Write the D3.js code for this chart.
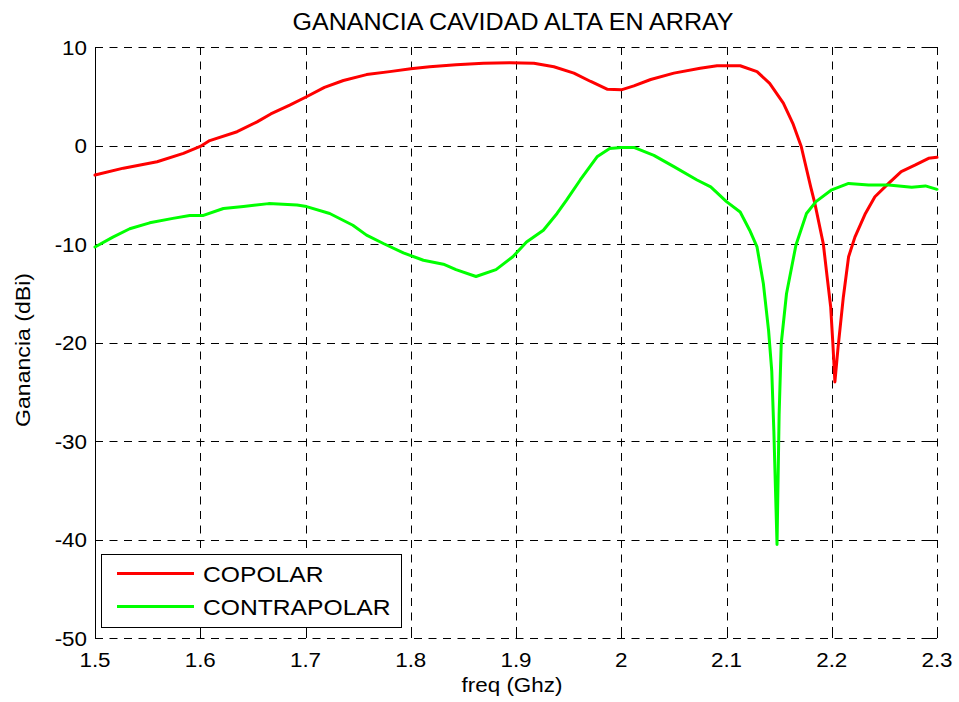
<!DOCTYPE html>
<html>
<head>
<meta charset="utf-8">
<script src="https://cdn.jsdelivr.net/npm/d3@7"></script>
<style>
  html, body { margin: 0; padding: 0; background: #fff; }
  svg { display: block; }
  text { font-family: "Liberation Sans", Arial, Helvetica, sans-serif; fill: #000; }
</style>
</head>
<body>
<svg id="chart" width="959" height="702"></svg>
<script>
// ---------------- data ----------------
const titleText = "GANANCIA CAVIDAD ALTA EN ARRAY";
const xLabelText = "freq (Ghz)";
const yLabelText = "Ganancia (dBi)";
const seriesNames = ["COPOLAR", "CONTRAPOLAR"];

const xTicks = [1.5, 1.6, 1.7, 1.8, 1.9, 2.0, 2.1, 2.2, 2.3];
const xTickLabels = ["1.5", "1.6", "1.7", "1.8", "1.9", "2", "2.1", "2.2", "2.3"];
const yTicks = [-50, -40, -30, -20, -10, 0, 10];
const yTickLabels = ["-50", "-40", "-30", "-20", "-10", "0", "10"];

const freqCopolar = [1.500, 1.527, 1.559, 1.584, 1.600, 1.609, 1.635, 1.654, 1.667, 1.685,
  1.700, 1.718, 1.736, 1.758, 1.780, 1.800, 1.818, 1.843, 1.869, 1.894,
  1.917, 1.936, 1.955, 1.971, 1.987, 2.000, 2.012, 2.028, 2.050, 2.075,
  2.091, 2.113, 2.129, 2.141, 2.154, 2.163, 2.171, 2.180, 2.184, 2.192,
  2.196, 2.199, 2.201, 2.203, 2.206, 2.211, 2.216, 2.222, 2.232, 2.241,
  2.254, 2.266, 2.279, 2.292, 2.300];
const copolar = [-3.0, -2.3, -1.65, -0.8, -0.1, 0.5, 1.4, 2.4, 3.2, 4.1,
  4.9, 5.9, 6.6, 7.2, 7.5, 7.8, 8.0, 8.2, 8.35, 8.4,
  8.35, 8.0, 7.35, 6.5, 5.7, 5.65, 6.05, 6.7, 7.35, 7.85,
  8.1, 8.1, 7.5, 6.3, 4.3, 2.25, -0.1, -4.2, -5.9, -10.0,
  -13.7, -16.4, -20.0, -24.0, -20.5, -15.4, -11.3, -9.3, -6.9, -5.2,
  -3.85, -2.65, -2.0, -1.3, -1.2];

const freqContrapolar = [1.500, 1.517, 1.533, 1.552, 1.574, 1.590, 1.603, 1.622, 1.641, 1.665,
  1.692, 1.701, 1.723, 1.745, 1.758, 1.774, 1.793, 1.812, 1.831, 1.843,
  1.862, 1.881, 1.897, 1.910, 1.926, 1.939, 1.948, 1.961, 1.977, 1.989,
  2.000, 2.012, 2.031, 2.050, 2.072, 2.085, 2.100, 2.113, 2.122, 2.129,
  2.135, 2.140, 2.143, 2.145, 2.148, 2.150, 2.152, 2.157, 2.166, 2.176,
  2.185, 2.200, 2.216, 2.235, 2.254, 2.276, 2.289, 2.300];
const contrapolar = [-10.3, -9.3, -8.45, -7.85, -7.4, -7.1, -7.1, -6.4, -6.2, -5.9,
  -6.05, -6.2, -6.9, -8.1, -9.1, -9.95, -10.9, -11.65, -12.05, -12.6,
  -13.3, -12.6, -11.3, -9.8, -8.6, -6.9, -5.55, -3.5, -1.15, -0.3,
  -0.2, -0.2, -1.0, -2.15, -3.5, -4.2, -5.7, -6.75, -8.6, -10.3,
  -14.0, -18.8, -22.9, -29.0, -40.5, -27.3, -20.1, -15.05, -10.1, -6.9,
  -5.7, -4.5, -3.85, -4.0, -4.0, -4.25, -4.1, -4.45];

const seriesColors = ["#ff0000", "#00ff00"];

// ---------------- layout ----------------
const svg = d3.select("#chart");
const plot = { left: 95, right: 937, top: 47, bottom: 638 };

const x = d3.scaleLinear().domain([1.5, 2.3]).range([plot.left, plot.right]);
const y = d3.scaleLinear().domain([-50, 10]).range([plot.bottom, plot.top]);

function stretch(sel, factor) {
  sel.each(function () {
    const w = this.getComputedTextLength();
    d3.select(this).attr("textLength", w * factor).attr("lengthAdjust", "spacingAndGlyphs");
  });
}

// background of axes
svg.append("rect").attr("x", plot.left).attr("y", plot.top)
  .attr("width", plot.right - plot.left).attr("height", plot.bottom - plot.top)
  .attr("fill", "#fff");

// grid lines
const grid = svg.append("g").attr("stroke", "#000").attr("stroke-width", 1)
  .attr("stroke-dasharray", "8,6.5").attr("fill", "none");
grid.selectAll("line.vx").data(xTicks).join("line").attr("class", "vx")
  .attr("x1", d => Math.round(x(d)) + 0.5).attr("x2", d => Math.round(x(d)) + 0.5)
  .attr("y1", plot.top).attr("y2", plot.bottom);
grid.selectAll("line.hy").data(yTicks).join("line").attr("class", "hy")
  .attr("y1", d => Math.round(y(d)) + 0.5).attr("y2", d => Math.round(y(d)) + 0.5)
  .attr("x1", plot.left).attr("x2", plot.right);

// tick marks (inward, all four sides)
const tickLen = 8;
const ticks = svg.append("g").attr("stroke", "#000").attr("stroke-width", 1);
xTicks.forEach(d => {
  const xx = Math.round(x(d)) + 0.5;
  ticks.append("line").attr("x1", xx).attr("x2", xx).attr("y1", plot.bottom).attr("y2", plot.bottom - tickLen);
  ticks.append("line").attr("x1", xx).attr("x2", xx).attr("y1", plot.top).attr("y2", plot.top + tickLen);
});
yTicks.forEach(d => {
  const yy = Math.round(y(d)) + 0.5;
  ticks.append("line").attr("y1", yy).attr("y2", yy).attr("x1", plot.left).attr("x2", plot.left + tickLen);
  ticks.append("line").attr("y1", yy).attr("y2", yy).attr("x1", plot.right).attr("x2", plot.right - tickLen);
});

// left axis solid line
svg.append("line").attr("x1", plot.left + 0.5).attr("x2", plot.left + 0.5)
  .attr("y1", plot.top).attr("y2", plot.bottom + 1).attr("stroke", "#000").attr("stroke-width", 1);

// tick labels
svg.append("g").selectAll("text").data(xTicks).join("text")
  .attr("x", d => x(d)).attr("y", 667)
  .attr("text-anchor", "middle").attr("font-size", 20)
  .text((d, i) => xTickLabels[i])
  .call(stretch, 1.12);

svg.append("g").selectAll("text").data(yTicks).join("text")
  .attr("x", 87).attr("y", d => y(d) + 7.5)
  .attr("text-anchor", "end").attr("font-size", 20)
  .text((d, i) => yTickLabels[i])
  .call(stretch, 1.12);

// curves
const line = d3.line().x(d => x(d[0])).y(d => y(d[1]));
const series = [
  d3.zip(freqCopolar, copolar),
  d3.zip(freqContrapolar, contrapolar)
];
svg.append("g").selectAll("path").data(series).join("path")
  .attr("d", line).attr("fill", "none")
  .attr("stroke", (d, i) => seriesColors[i])
  .attr("stroke-width", 3)
  .attr("stroke-linejoin", "round").attr("stroke-linecap", "round");

// title & axis labels
svg.append("text").attr("x", 513).attr("y", 30).attr("text-anchor", "middle")
  .attr("font-size", 23).text(titleText).call(stretch, 1.09);

svg.append("text").attr("x", 512).attr("y", 692).attr("text-anchor", "middle")
  .attr("font-size", 20).text(xLabelText).call(stretch, 1.12);

svg.append("text").attr("transform", "translate(30,350) rotate(-90)")
  .attr("text-anchor", "middle").attr("font-size", 21).text(yLabelText)
  .call(stretch, 1.1);

// legend
const legend = svg.append("g");
legend.append("rect").attr("x", 101.5).attr("y", 554.5).attr("width", 300).attr("height", 73)
  .attr("fill", "#fff").attr("stroke", "#000").attr("stroke-width", 1);
const legendRows = [573.5, 606.5];
seriesNames.forEach((name, i) => {
  legend.append("line").attr("x1", 117).attr("x2", 194)
    .attr("y1", legendRows[i]).attr("y2", legendRows[i])
    .attr("stroke", seriesColors[i]).attr("stroke-width", 3);
  legend.append("text").attr("x", 203).attr("y", legendRows[i] + 8.5)
    .attr("font-size", 22).text(name).call(stretch, 1.12);
});
</script>
</body>
</html>
